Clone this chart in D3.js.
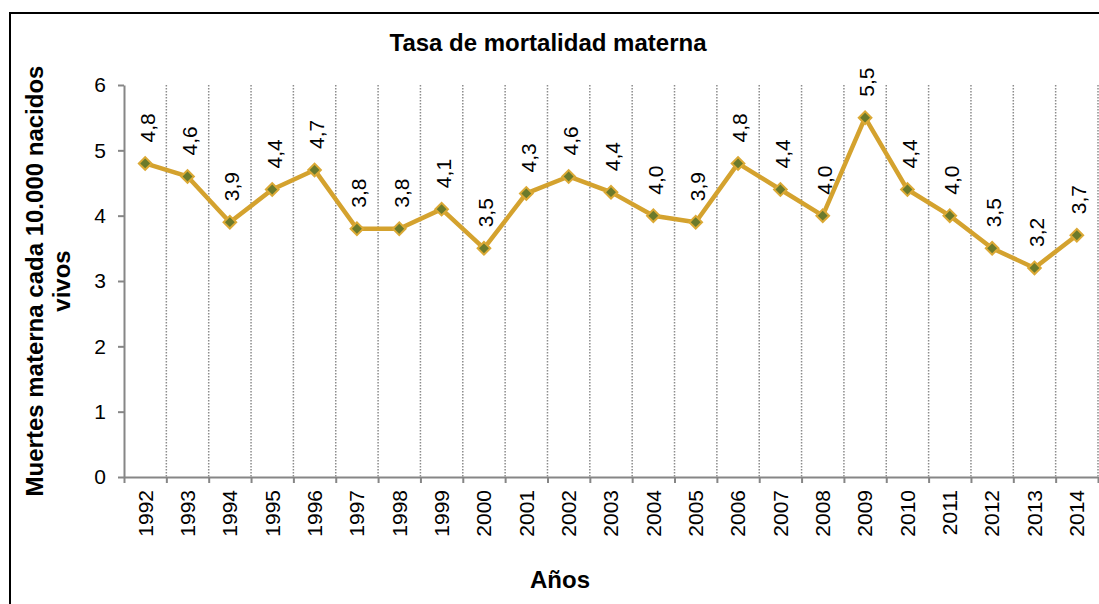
<!DOCTYPE html>
<html>
<head>
<meta charset="utf-8">
<script src="https://cdn.jsdelivr.net/npm/d3@7"></script>
<style>
  body { margin: 0; background: #fff; }
  svg { display: block; font-family: "Liberation Sans", Arial, sans-serif; }
  .axis path, .axis line { stroke: #868686; stroke-width: 2; }
  .axis text { fill: #000; font-size: 21px; }
</style>
</head>
<body>
<svg id="chart" width="1099" height="604"></svg>
<script>
// Data
const years = ['1992','1993','1994','1995','1996','1997','1998','1999','2000','2001','2002',
               '2003','2004','2005','2006','2007','2008','2009','2010','2011','2012','2013','2014'];
const rates = [4.8, 4.6, 3.9, 4.4, 4.7, 3.8, 3.8, 4.1, 3.5, 4.34, 4.6,
               4.36, 4.0, 3.9, 4.8, 4.4, 4.0, 5.5, 4.4, 4.0, 3.5, 3.2, 3.7];
const yTicks = [0, 1, 2, 3, 4, 5, 6];

const data = years.map((y, i) => ({ year: y, value: rates[i] }));

const svg = d3.select('#chart');
const margin = { top: 85, bottom: 127, left: 124, right: 1 };
const width = 1099 - margin.left - margin.right;
const height = 604 - margin.top - margin.bottom;

// outer frame (right and bottom edges fall outside the picture)
svg.append('rect')
    .attr('x', 10).attr('y', 13)
    .attr('width', 1200).attr('height', 700)
    .attr('fill', 'none').attr('stroke', '#000').attr('stroke-width', 2);

const chart = svg.append('g')
    .attr('transform', `translate(${margin.left},${margin.top})`);

const xScale = d3.scaleBand().domain(years).range([0, width]).padding(0);
const xEdges = d3.scaleLinear().domain([0, years.length]).range([0, width]);
const yScale = d3.scaleLinear().domain([0, 6]).range([height, 0]);

// dotted vertical gridlines on category boundaries
chart.append('g')
    .selectAll('line')
    .data(d3.range(1, years.length + 1))
    .join('line')
      .attr('x1', d => xEdges(d)).attr('x2', d => xEdges(d))
      .attr('y1', 0).attr('y2', height)
      .attr('stroke', '#8c8c8c')
      .attr('stroke-width', 1.5)
      .attr('stroke-dasharray', '1.5,1.5');

// y axis
chart.append('g')
    .attr('class', 'axis y-axis')
    .call(d3.axisLeft(yScale).tickValues(yTicks).tickSize(6).tickSizeOuter(0).tickPadding(12).tickFormat(d3.format('d')));

// x axis: boundary tick marks
chart.append('g')
    .attr('class', 'axis x-axis')
    .attr('transform', `translate(0,${height})`)
    .call(d3.axisBottom(xEdges).tickValues(d3.range(0, years.length + 1)).tickSize(6).tickSizeOuter(0).tickFormat(''));

// x axis: rotated year labels
const xLabels = chart.append('g')
    .attr('class', 'axis x-labels')
    .attr('transform', `translate(0,${height})`)
    .call(d3.axisBottom(xScale).tickSize(0).tickSizeOuter(0));
xLabels.select('.domain').remove();
xLabels.selectAll('text')
    .attr('text-anchor', 'end')
    .attr('transform', 'rotate(-90)')
    .attr('x', -13)
    .attr('y', 0)
    .attr('dy', '0.35em');

// line
const line = d3.line()
    .x(d => xScale(d.year) + xScale.bandwidth() / 2)
    .y(d => yScale(d.value));

chart.append('path')
    .datum(data)
    .attr('fill', 'none')
    .attr('stroke', '#d4a22e')
    .attr('stroke-width', 4.5)
    .attr('stroke-linejoin', 'round')
    .attr('d', line);

// diamond markers
chart.selectAll('.point')
    .data(data)
    .join('path')
      .attr('class', 'point')
      .attr('d', d3.symbol(d3.symbolSquare, 80))
      .attr('transform', d => `translate(${xScale(d.year) + xScale.bandwidth() / 2},${yScale(d.value)}) rotate(45)`)
      .attr('fill', '#6b7a2b')
      .attr('stroke', '#dba935')
      .attr('stroke-width', 2);

// value labels
const fmt = v => d3.format('.1f')(v).replace('.', ',');
chart.selectAll('.value-label')
    .data(data)
    .join('text')
      .attr('class', 'value-label')
      .attr('transform', d => `translate(${xScale(d.year) + xScale.bandwidth() / 2 + 2},${yScale(d.value) - 21}) rotate(-90)`)
      .attr('dy', '0.35em')
      .attr('font-size', 21)
      .attr('fill', '#000')
      .text(d => fmt(d.value));

// chart title
svg.append('text')
    .attr('x', 548).attr('y', 51)
    .attr('text-anchor', 'middle')
    .attr('font-size', 24).attr('font-weight', 'bold')
    .text('Tasa de mortalidad materna');

// y axis title (two lines)
const yTitle = svg.append('text')
    .attr('transform', 'translate(35,281) rotate(-90)')
    .attr('text-anchor', 'middle')
    .attr('font-size', 24).attr('font-weight', 'bold');
yTitle.append('tspan').attr('x', 0).attr('dy', '0.35em').text('Muertes materna cada 10.000 nacidos');
yTitle.append('tspan').attr('x', 0).attr('dy', 27).text('vivos');

// x axis title
svg.append('text')
    .attr('x', 560).attr('y', 588)
    .attr('text-anchor', 'middle')
    .attr('font-size', 24).attr('font-weight', 'bold')
    .text('Años');
</script>
</body>
</html>
